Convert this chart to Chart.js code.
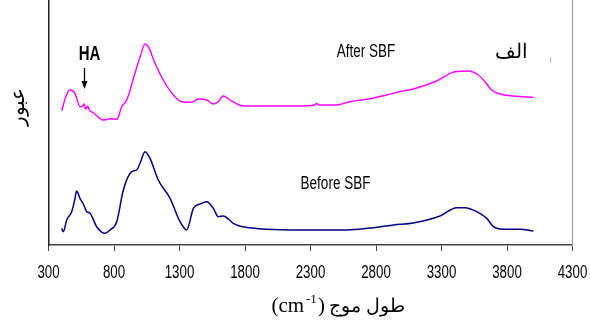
<!DOCTYPE html>
<html>
<head>
<meta charset="utf-8">
<script src="https://cdn.jsdelivr.net/npm/chart.js@4.4.0/dist/chart.umd.min.js"></script>
<style>
  html, body { margin: 0; padding: 0; background: #fff; }
  canvas { display: block; }
</style>
</head>
<body>
<canvas id="c" width="590" height="321"></canvas>
<script>
// Wavenumber axis
const xTickMin = 300;
const xTickMax = 4300;
const xTickStep = 500;

// After SBF spectrum (wavenumber, relative transmittance units)
const afterX = [401, 434, 464, 502, 540, 561, 573, 584, 599, 611, 642, 718, 760, 782, 821, 859, 897, 960, 999, 1037, 1062, 1113, 1176, 1253, 1317, 1393, 1444, 1508, 1558, 1596, 1634, 1685, 1757, 1800, 1966, 2207, 2330, 2347, 2365, 2500, 2602, 2729, 2882, 2978, 3085, 3263, 3403, 3505, 3581, 3632, 3683, 3747, 3848, 4001];
const afterY = [134.3, 149, 155, 151.7, 138.3, 139, 141, 135.7, 139, 135, 132.3, 125, 126, 126.3, 125.7, 138.3, 145, 171.7, 188.3, 201, 198.3, 181.7, 165, 150, 143.3, 142.7, 146, 145, 141, 143.3, 149, 145, 140, 139, 139, 139, 140, 141.5, 140, 140, 143.3, 145.7, 150, 153.3, 156, 164, 173.3, 174, 170, 163.3, 155, 151, 149, 147.7];

// Before SBF spectrum
const beforeX = [401, 413, 439, 477, 500, 515, 540, 566, 592, 617, 668, 731, 769, 821, 871, 935, 973, 999, 1037, 1075, 1138, 1228, 1304, 1355, 1406, 1457, 1508, 1558, 1596, 1634, 1711, 1757, 1838, 1966, 2220, 2576, 2780, 2978, 3073, 3289, 3416, 3480, 3569, 3645, 3696, 3772, 3899, 4001];
const beforeY = [16.7, 13.3, 25, 33.3, 45, 54, 46.7, 41, 33.3, 31.7, 18.3, 11.7, 15, 23.3, 55, 73.3, 75, 81.7, 93.3, 86.7, 65, 46.7, 23.3, 15, 36.7, 41, 43.3, 36.7, 28.3, 29, 21.7, 19, 17.3, 15.7, 15, 15, 17.3, 20.7, 21.7, 29, 37.3, 37.3, 33.3, 26.7, 18.3, 15.7, 15.7, 14];

const labelAfter = 'After SBF';
const labelBefore = 'Before SBF';
const labelHA = 'HA';
const labelPanel = 'الف';
const yTitle = 'عبور';
const xTitleArabic = 'طول موج';
const xTitleUnit = '(cm';
const xTitleSup = '-1';
const xTitleClose = ')';

const sans = '"Liberation Sans", Arial, sans-serif';
const serif = '"Liberation Serif", "Times New Roman", serif';

const toPts = (xs, ys) => xs.map((x, i) => ({ x: x, y: ys[i] }));

// draw text stretched vertically (the reference uses tall, narrow lettering)
function tallText(ctx, text, x, y, stretch) {
  ctx.save();
  ctx.translate(x, y);
  ctx.scale(1, stretch);
  ctx.fillText(text, 0, 0);
  ctx.restore();
}

const annotate = {
  id: 'annotate',
  afterDraw(chart) {
    const ctx = chart.ctx;
    ctx.save();
    ctx.fillStyle = '#000';
    ctx.textBaseline = 'alphabetic';
    ctx.direction = 'ltr';

    // HA label + arrow
    ctx.font = 'bold 15px ' + sans;
    ctx.textAlign = 'center';
    tallText(ctx, labelHA, 89.5, 60, 1.38);
    ctx.strokeStyle = '#000';
    ctx.lineWidth = 1.3;
    ctx.beginPath();
    ctx.moveTo(84.5, 68);
    ctx.lineTo(84.5, 84);
    ctx.stroke();
    ctx.beginPath();
    ctx.moveTo(81.5, 81);
    ctx.lineTo(87.5, 81);
    ctx.lineTo(84.5, 89);
    ctx.closePath();
    ctx.fill();

    // series labels
    ctx.font = '13.5px ' + sans;
    tallText(ctx, labelAfter, 366, 56.5, 1.3);
    tallText(ctx, labelBefore, 335.5, 188.5, 1.3);

    // panel letter
    ctx.font = '20px ' + serif;
    ctx.fillText(labelPanel, 511, 58);

    // small mark
    ctx.strokeStyle = '#bbb';
    ctx.lineWidth = 1;
    ctx.beginPath();
    ctx.moveTo(550.5, 57);
    ctx.lineTo(550.5, 63);
    ctx.stroke();

    // y title
    ctx.save();
    ctx.translate(19, 107);
    ctx.rotate(-Math.PI / 2);
    ctx.font = '20px ' + serif;
    ctx.textAlign = 'center';
    ctx.textBaseline = 'middle';
    ctx.fillText(yTitle, 0, 0);
    ctx.restore();

    // x title
    ctx.font = '21px ' + serif;
    ctx.textAlign = 'left';
    ctx.fillText(xTitleUnit, 271.5, 311.5);
    ctx.font = '13px ' + serif;
    ctx.fillText(xTitleSup, 306, 303);
    ctx.font = '21px ' + serif;
    ctx.fillText(xTitleClose, 318, 311.5);
    ctx.direction = 'rtl';
    ctx.textAlign = 'right';
    ctx.font = '19px ' + serif;
    ctx.fillText(xTitleArabic, 405, 311.5);
    ctx.restore();
  }
};

new Chart(document.getElementById('c'), {
  type: 'line',
  data: {
    datasets: [
      {
        label: labelAfter,
        data: toPts(afterX, afterY),
        borderColor: '#ff00ff',
        borderWidth: 1.4,
        pointRadius: 0,
        fill: false,
        cubicInterpolationMode: 'monotone'
      },
      {
        label: labelBefore,
        data: toPts(beforeX, beforeY),
        borderColor: '#000080',
        borderWidth: 1.5,
        pointRadius: 0,
        fill: false,
        cubicInterpolationMode: 'monotone'
      }
    ]
  },
  options: {
    responsive: false,
    animation: false,
    layout: { padding: 0 },
    plugins: { legend: { display: false }, tooltip: { enabled: false } },
    scales: {
      x: {
        type: 'linear',
        min: xTickMin,
        max: xTickMax,
        ticks: {
          stepSize: xTickStep,
          autoSkip: false,
          maxRotation: 0,
          padding: 14,
          color: '#000',
          font: { family: sans, size: 13.3 },
          callback: (v) => String(v)
        },
        grid: { display: true, drawOnChartArea: false, drawTicks: true, tickLength: 6, color: '#444', lineWidth: 1 },
        border: { display: true, color: '#444', width: 1.5 },
        afterFit(s) {
          s.height = 76;
          s.paddingLeft = 10;
          s.paddingRight = 10;
          if (!s._tallWrapped) {
            s._tallWrapped = true;
            const orig = s.drawLabels;
            s.drawLabels = function (area) {
              const ctx = this.ctx;
              const cy = 273;
              ctx.save();
              ctx.translate(0, cy);
              ctx.scale(1, 1.38);
              ctx.translate(0, -cy);
              orig.call(this, area);
              ctx.restore();
            };
          }
        }
      },
      y: {
        min: 0,
        max: 245,
        ticks: { display: false },
        grid: { display: false },
        border: { display: true, color: '#222', width: 1.5 },
        afterFit(s) { s.width = 48.5; }
      },
      y2: {
        position: 'right',
        min: 0,
        max: 245,
        ticks: { display: false },
        grid: { display: false },
        border: { display: true, color: '#999', width: 1 },
        afterFit(s) { s.width = 17.5; }
      }
    }
  },
  plugins: [annotate]
});
</script>
</body>
</html>
